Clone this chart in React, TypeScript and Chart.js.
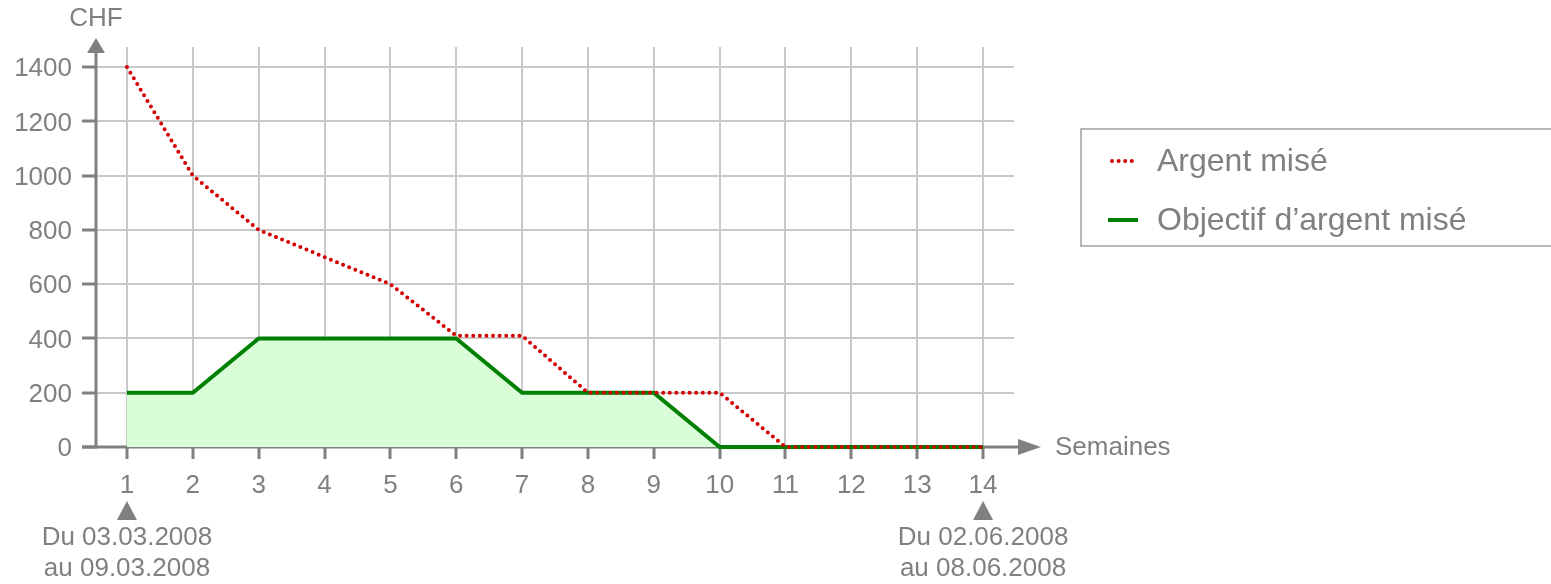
import React, { useEffect, useRef } from 'react';
import { Chart, registerables } from 'chart.js';

Chart.register(...registerables);

const weeks = [1, 2, 3, 4, 5, 6, 7, 8, 9, 10, 11, 12, 13, 14];
const argentMise = [1400, 1000, 800, 700, 600, 410, 410, 200, 200, 200, 0, 0, 0, 0];
const objectifArgentMise = [200, 200, 400, 400, 400, 400, 200, 200, 200, 0, 0, 0, 0, 0];
const seriesLabels = ['Argent misé', 'Objectif d’argent misé'];
const yAxisTitle = 'CHF';
const xAxisTitle = 'Semaines';
const startPeriod = ['Du 03.03.2008', 'au 09.03.2008'];
const endPeriod = ['Du 02.06.2008', 'au 08.06.2008'];

const GRAY = '#808080';
const FONT = '"Liberation Sans", Arial, sans-serif';
const RED = '#d40000';
const GREEN = '#008000';

const decorPlugin = {
  id: 'decor',
  beforeDatasetsDraw(chart: any) {
    const { ctx, chartArea } = chart;
    const x0 = chartArea.left;
    const yb = chart.scales.y.getPixelForValue(0);
    ctx.save();
    ctx.strokeStyle = GRAY;
    ctx.fillStyle = GRAY;
    ctx.lineWidth = 3;
    // y axis
    ctx.beginPath();
    ctx.moveTo(x0, yb + 1.5);
    ctx.lineTo(x0, chartArea.top);
    ctx.stroke();
    ctx.beginPath();
    ctx.moveTo(x0, chartArea.top - 9);
    ctx.lineTo(x0 - 9, chartArea.top + 6);
    ctx.lineTo(x0 + 9, chartArea.top + 6);
    ctx.closePath();
    ctx.fill();
    // x axis
    const xr = chartArea.right + 4;
    ctx.beginPath();
    ctx.moveTo(x0 - 14, yb);
    ctx.lineTo(xr, yb);
    ctx.stroke();
    ctx.beginPath();
    ctx.moveTo(xr + 23, yb);
    ctx.lineTo(xr, yb - 8);
    ctx.lineTo(xr, yb + 8);
    ctx.closePath();
    ctx.fill();
    ctx.restore();
  },
  afterDraw(chart: any) {
    const { ctx, chartArea } = chart;
    const xs = chart.scales.x;
    const yb = chart.scales.y.getPixelForValue(0);
    ctx.save();
    ctx.fillStyle = GRAY;
    ctx.font = `26px ${FONT}`;
    ctx.textBaseline = 'middle';
    ctx.textAlign = 'center';
    ctx.fillText(yAxisTitle, chartArea.left, 19);
    ctx.textAlign = 'left';
    ctx.fillText(xAxisTitle, chartArea.right + 41, yb + 1);
    // period markers
    const marks: [number, string[]][] = [
      [weeks[0], startPeriod],
      [weeks[weeks.length - 1], endPeriod],
    ];
    for (const [w, lines] of marks) {
      const px = xs.getPixelForValue(w);
      ctx.beginPath();
      ctx.moveTo(px, 501);
      ctx.lineTo(px - 10, 520);
      ctx.lineTo(px + 10, 520);
      ctx.closePath();
      ctx.fill();
      ctx.textAlign = 'center';
      lines.forEach((t, i) => ctx.fillText(t, px, 538 + i * 31));
    }
    // legend
    const lx = 1081, ly = 129, lw = 480, lh = 117;
    ctx.strokeStyle = '#a0a0a0';
    ctx.lineWidth = 1.5;
    ctx.strokeRect(lx, ly, lw, lh);
    ctx.font = `32px ${FONT}`;
    ctx.textAlign = 'left';
    const ds = chart.data.datasets;
    ds.forEach((d: any, i: number) => {
      const cy = ly + 32 + i * 59;
      ctx.save();
      ctx.strokeStyle = d.borderColor;
      ctx.lineWidth = d.borderWidth;
      ctx.lineCap = d.borderCapStyle || 'butt';
      ctx.setLineDash(d.borderDash || []);
      ctx.beginPath();
      if (d.borderDash && d.borderDash.length) {
        ctx.moveTo(1112, cy);
        ctx.lineTo(1138, cy);
      } else {
        ctx.moveTo(1108, cy);
        ctx.lineTo(1138, cy);
      }
      ctx.stroke();
      ctx.restore();
      ctx.fillStyle = GRAY;
      ctx.fillText(d.label, 1157, cy + 1);
    });
    ctx.restore();
  },
};

export default function App() {
  const ref = useRef<HTMLCanvasElement>(null);
  useEffect(() => {
    if (!ref.current) return;
    const chart = new Chart(ref.current, {
      type: 'line',
      data: {
        datasets: [
          {
            label: seriesLabels[0],
            data: weeks.map((w, i) => ({ x: w, y: argentMise[i] })),
            borderColor: RED,
            borderWidth: 4,
            borderDash: [0, 6.6],
            borderCapStyle: 'round',
            pointRadius: 0,
            tension: 0,
            fill: false,
            clip: false,
          },
          {
            label: seriesLabels[1],
            data: weeks.map((w, i) => ({ x: w, y: objectifArgentMise[i] })),
            borderColor: GREEN,
            borderWidth: 4,
            backgroundColor: 'rgb(217, 252, 217)',
            pointRadius: 0,
            tension: 0,
            fill: 'origin',
            clip: false,
          },
        ],
      } as any,
      plugins: [decorPlugin],
      options: {
        animation: false,
        responsive: false,
        maintainAspectRatio: false,
        layout: { padding: { left: 0, top: 47, right: 1551 - 1014, bottom: 0 } },
        plugins: { legend: { display: false }, tooltip: { enabled: false } },
        scales: {
          x: {
            type: 'linear',
            min: 0.53,
            max: 14.47,
            afterFit: (s: any) => { s.height = 584 - 447; },
            afterBuildTicks: (s: any) => {
              s.ticks = weeks.map((w) => ({ value: w }));
            },
            border: { display: false },
            grid: {
              color: '#c8c8c8',
              lineWidth: 2,
              tickColor: GRAY,
              tickLength: 12,
              tickWidth: 3,
            } as any,
            ticks: {
              stepSize: 1,
              includeBounds: false,
              color: GRAY,
              font: { family: FONT, size: 26 },
              padding: 11,
              maxRotation: 0,
              autoSkip: false,
              callback: (v: any) => String(v),
            } as any,
          },
          y: {
            type: 'linear',
            min: 0,
            max: 1474,
            afterFit: (s: any) => { s.width = 96; },
            border: { display: false },
            grid: {
              color: '#c8c8c8',
              lineWidth: 2,
              tickColor: GRAY,
              tickLength: 14,
              tickWidth: 3,
            } as any,
            ticks: {
              stepSize: 200,
              includeBounds: false,
              color: GRAY,
              font: { family: FONT, size: 26 },
              padding: 10,
              labelOffset: 2,
              callback: (v: any) => String(v),
            } as any,
          },
        },
      },
    } as any);
    return () => chart.destroy();
  }, []);
  return (
    <div style={{ position: 'fixed', left: 0, top: 0, width: 1551, height: 584, background: '#fff' }}>
      <canvas ref={ref} width={1551} height={584} style={{ width: 1551, height: 584, display: 'block' }} />
    </div>
  );
}
